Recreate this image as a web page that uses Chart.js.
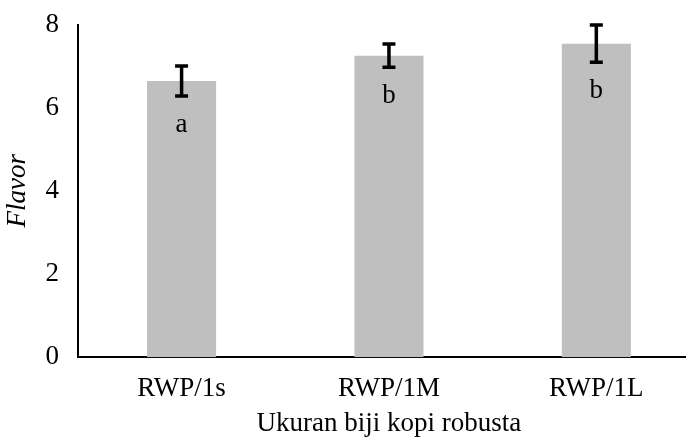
<html>
    <head>
        <title>Flavor Chart</title>
        <script src="https://cdn.jsdelivr.net/npm/chart.js@4.4.0/dist/chart.umd.min.js"></script>
        <style>
            body { margin: 0; overflow: hidden; background: #fff; }
            #wrap { width: 700px; height: 440px; }
        </style>
    </head>

    <body>
        <div id="wrap">
            <canvas id="flavor-chart" width="700" height="440"></canvas>
        </div>

        <script>
            // chart data
            const categories = ['RWP/1s', 'RWP/1M', 'RWP/1L'];
            const flavorMeans = [6.64, 7.25, 7.54];
            const flavorErrors = [0.36, 0.28, 0.45];
            const letters = ['a', 'b', 'b'];
            const yTicks = [0, 2, 4, 6, 8];

            const serif = "'Liberation Serif', 'Times New Roman', serif";

            // draws the error bars and the letters on top of the bars
            const errorBarPlugin = {
                id: 'errorBars',
                afterDatasetsDraw(chart) {
                    const ctx = chart.ctx;
                    const y = chart.scales.y;
                    const meta = chart.getDatasetMeta(0);
                    ctx.save();
                    meta.data.forEach((bar, i) => {
                        const x = bar.x;
                        const top = y.getPixelForValue(flavorMeans[i] + flavorErrors[i]);
                        const bottom = y.getPixelForValue(flavorMeans[i] - flavorErrors[i]);
                        ctx.strokeStyle = '#000';
                        ctx.lineWidth = 3.5;
                        ctx.beginPath();
                        ctx.moveTo(x, top);
                        ctx.lineTo(x, bottom);
                        ctx.moveTo(x - 6.5, top);
                        ctx.lineTo(x + 6.5, top);
                        ctx.moveTo(x - 6.5, bottom);
                        ctx.lineTo(x + 6.5, bottom);
                        ctx.stroke();

                        ctx.fillStyle = '#000';
                        ctx.font = '27px ' + serif;
                        ctx.textAlign = 'center';
                        ctx.textBaseline = 'alphabetic';
                        ctx.fillText(letters[i], x, bottom + 36);
                    });
                    ctx.restore();
                }
            };

            const ctx = document.getElementById('flavor-chart').getContext('2d');

            new Chart(ctx, {
                type: 'bar',
                data: {
                    labels: categories,
                    datasets: [{
                        data: flavorMeans,
                        backgroundColor: '#bfbfbf',
                        borderWidth: 0,
                        categoryPercentage: 1,
                        barPercentage: 0.333
                    }]
                },
                options: {
                    responsive: false,
                    animation: false,
                    layout: {
                        padding: { top: 3, right: 0, bottom: 0, left: 0 }
                    },
                    plugins: {
                        legend: { display: false },
                        tooltip: { enabled: false }
                    },
                    scales: {
                        x: {
                            grid: { display: false },
                            border: { display: true, color: '#000', width: 2 },
                            ticks: {
                                color: '#000',
                                padding: 8,
                                font: { family: serif, size: 27 }
                            },
                            title: {
                                display: true,
                                text: 'Ukuran biji kopi robusta',
                                color: '#000',
                                padding: { top: -6, bottom: 0 },
                                font: { family: serif, size: 27 }
                            }
                        },
                        y: {
                            min: 0,
                            max: 8,
                            afterBuildTicks: (axis) => {
                                axis.ticks = yTicks.map(v => ({ value: v }));
                            },
                            grid: { display: false },
                            border: { display: true, color: '#000', width: 2 },
                            ticks: {
                                color: '#000',
                                padding: 11,
                                font: { family: serif, size: 27, lineHeight: 1 }
                            },
                            title: {
                                display: true,
                                text: 'Flavor',
                                color: '#000',
                                padding: { top: 2, bottom: 0 },
                                font: { family: serif, size: 27, style: 'italic' }
                            }
                        }
                    }
                },
                plugins: [errorBarPlugin]
            });
        </script>
    </body>
</html>
